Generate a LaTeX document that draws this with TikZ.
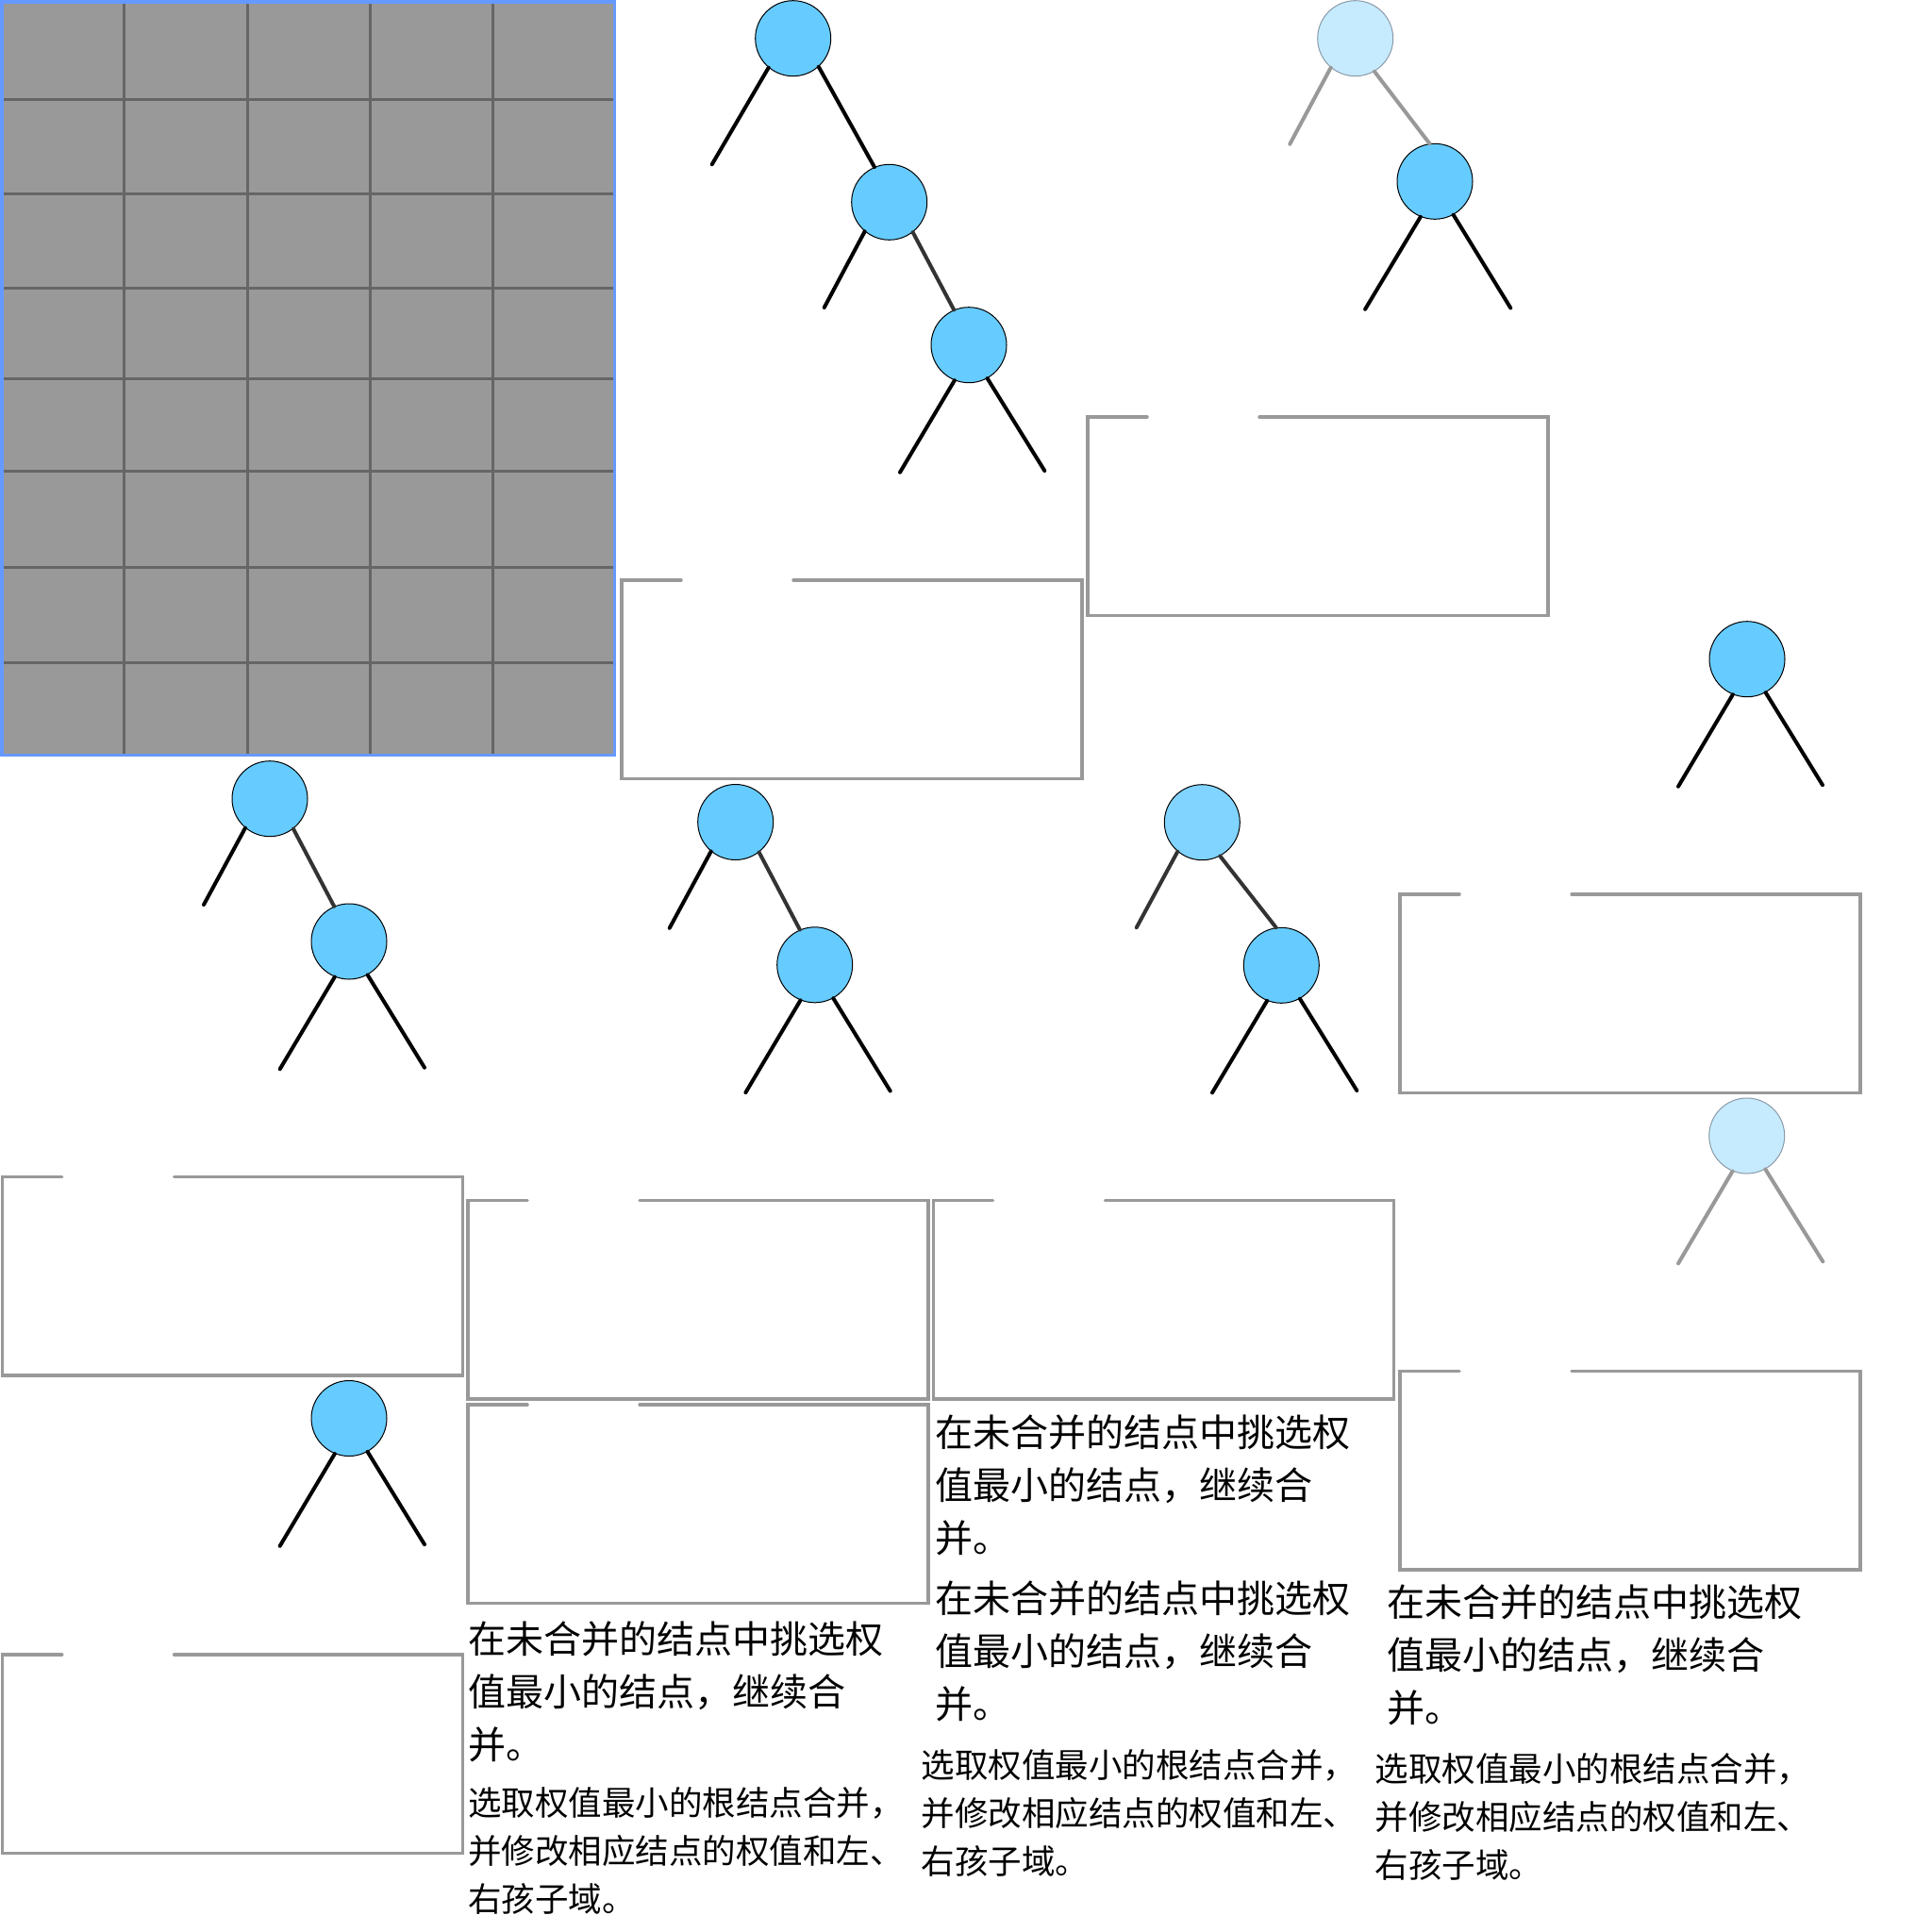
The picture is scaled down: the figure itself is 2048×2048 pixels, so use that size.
\documentclass[tikz,border=0pt]{standalone}
\usepackage{fontspec}
\newfontfamily\cjk{Noto Sans CJK SC}
\definecolor{nodeblue}{HTML}{66CCFF}
\definecolor{palebl}{HTML}{C6EBFF}
\definecolor{palegr}{HTML}{8A9AA8}
\definecolor{midbl}{HTML}{80D4FF}
\definecolor{linkgr}{HTML}{333333}
\definecolor{ghostgr}{HTML}{999999}
\definecolor{boxgr}{HTML}{999999}
\definecolor{gridfill}{HTML}{999999}
\definecolor{gridline}{HTML}{666666}
\definecolor{gridborder}{HTML}{6699FF}
\newcommand\gapbox[2]{%
  \draw[frame] ({#1+63},#2) -- (#1,#2) -- (#1,{#2+210.5}) -- ({#1+488},{#2+210.5}) -- ({#1+488},#2) -- ({#1+182},#2);}
\begin{document}
\begin{tikzpicture}[x=1pt,y=-1pt,
  nd/.style={circle,draw=black,line width=1pt,fill=nodeblue,minimum size=80pt,inner sep=0pt},
  ndpale/.style={nd,fill=palebl,draw=palegr},
  ndmid/.style={nd,fill=midbl},
  leaf/.style={line width=4pt,draw=black,line cap=round},
  link/.style={line width=4pt,draw=linkgr,line cap=round},
  ghost/.style={line width=4pt,draw=ghostgr,line cap=round},
  frame/.style={line width=3.5pt,draw=boxgr,line cap=round,line join=miter},
  big/.style={font=\cjk\fontsize{40}{56}\selectfont,anchor=north west,inner sep=0pt,align=left},
  small/.style={font=\cjk\fontsize{35.5}{51}\selectfont,anchor=north west,inner sep=0pt,align=left}]
\useasboundingbox (0,0) rectangle (2048,2048);
\fill[white] (0,0) rectangle (2048,2048);

% grid panel
\fill[gridfill] (0,0) rectangle (653,802);
\foreach \gx in {131.6,262,392.7,522.7}
  \draw[gridline,line width=3pt] (\gx,0) -- (\gx,802);
\foreach \gy in {105.4,205.5,305.2,401.8,499.4,601.6,702.3}
  \draw[gridline,line width=3pt] (0,\gy) -- (653,\gy);
\draw[gridborder,line width=3.5pt] (1.75,1.75) rectangle (651.25,800.25);

% open-topped frames
\gapbox{1153}{442}
\gapbox{659}{615}
\gapbox{1484}{948}
\gapbox{2.7}{1247.7}
\gapbox{496}{1272.5}
\gapbox{989.5}{1272.5}
\gapbox{496}{1489}
\gapbox{1484}{1453.5}
\gapbox{2.7}{1754}

% tree 1
\node[nd] (a1) at (840.7,40.7) {};
\node[nd] (a2) at (942.7,214.3) {};
\node[nd] (a3) at (1027,365.7) {};
\coordinate (a1l) at (754.7,174.3);
\coordinate (a2l) at (873.7,326);
\coordinate (a3l) at (954,500.7);
\coordinate (a3r) at (1107.3,499);
\draw[leaf] (a1.230) -- (a1l);
\draw[leaf] (a1.312) -- (a2.113);
\draw[leaf] (a2.230) -- (a2l);
\draw[link] (a2.308) -- (a3.113);
\draw[leaf] (a3.248) -- (a3l);
\draw[leaf] (a3.299) -- (a3r);

% tree 2
\node[ndpale] (b1) at (1436.7,40.7) {};
\node[nd] (b2) at (1521,192.3) {};
\coordinate (b1l) at (1367.3,152.7);
\coordinate (b2l) at (1447.1,327.8);
\coordinate (b2r) at (1601.3,326.5);
\draw[ghost] (b1.230) -- (b1l);
\draw[ghost] (b1.300) -- (b2.98);
\draw[leaf] (b2.248) -- (b2l);
\draw[leaf] (b2.299) -- (b2r);

% tree 3
\node[nd] (c1) at (1852,698.7) {};
\coordinate (c1l) at (1779,833.7);
\coordinate (c1r) at (1932,832.2);
\draw[leaf] (c1.248) -- (c1l);
\draw[leaf] (c1.299) -- (c1r);

% tree 4
\node[nd] (d1) at (286,846.7) {};
\node[nd] (d2) at (370,998) {};
\coordinate (d1l) at (216,959);
\coordinate (d2l) at (296.7,1133.3);
\coordinate (d2r) at (450,1131.7);
\draw[leaf] (d1.230) -- (d1l);
\draw[link] (d1.308) -- (d2.113);
\draw[leaf] (d2.248) -- (d2l);
\draw[leaf] (d2.299) -- (d2r);

% tree 5
\node[nd] (e1) at (779.7,871.5) {};
\node[nd] (e2) at (863.7,1022.8) {};
\coordinate (e1l) at (709.7,983.8);
\coordinate (e2l) at (790.4,1158.1);
\coordinate (e2r) at (943.7,1156.5);
\draw[leaf] (e1.230) -- (e1l);
\draw[link] (e1.308) -- (e2.113);
\draw[leaf] (e2.248) -- (e2l);
\draw[leaf] (e2.299) -- (e2r);

% tree 6
\node[ndmid] (f1) at (1274.3,871.7) {};
\node[nd] (f2) at (1358.3,1023.3) {};
\coordinate (f1l) at (1204.7,983.3);
\coordinate (f2l) at (1285,1158.3);
\coordinate (f2r) at (1438.3,1156);
\draw[link] (f1.230) -- (f1l);
\draw[link] (f1.298) -- (f2.98);
\draw[leaf] (f2.248) -- (f2l);
\draw[leaf] (f2.299) -- (f2r);

% tree 7
\node[ndpale] (g1) at (1851.7,1204) {};
\coordinate (g1l) at (1779,1339.3);
\coordinate (g1r) at (1932.3,1337.3);
\draw[ghost] (g1.248) -- (g1l);
\draw[ghost] (g1.299) -- (g1r);

% tree 8
\node[nd] (h1) at (370,1503.5) {};
\coordinate (h1l) at (296.7,1638.8);
\coordinate (h1r) at (450,1637.2);
\draw[leaf] (h1.248) -- (h1l);
\draw[leaf] (h1.299) -- (h1r);

% texts
\node[big] (t1) at (496,1719) {在未合并的结点中挑选权\\值最小的结点，继续合\\并。};
\node[big] (t3) at (991,1500) {在未合并的结点中挑选权\\值最小的结点，继续合\\并。};
\node[big] (t4) at (991,1676) {在未合并的结点中挑选权\\值最小的结点，继续合\\并。};
\node[big] (t6) at (1470,1680) {在未合并的结点中挑选权\\值最小的结点，继续合\\并。};
\node[small] (t2) at (496,1894.5) {选取权值最小的根结点合并，\\并修改相应结点的权值和左、\\右孩子域。};
\node[small] (t5) at (976.5,1854) {选取权值最小的根结点合并，\\并修改相应结点的权值和左、\\右孩子域。};
\node[small] (t7) at (1457.5,1858) {选取权值最小的根结点合并，\\并修改相应结点的权值和左、\\右孩子域。};
\end{tikzpicture}
\end{document}
